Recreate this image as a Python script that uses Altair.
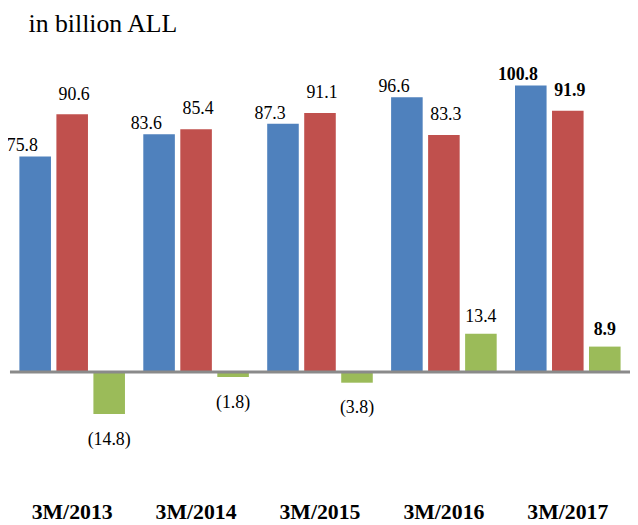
import altair as alt
import pandas as pd

categories = ["3M/2013", "3M/2014", "3M/2015", "3M/2016", "3M/2017"]
series_names = ["Revenues", "Expenditures", "Balance"]
revenues = [75.8, 83.6, 87.3, 96.6, 100.8]
expenditures = [90.6, 85.4, 91.1, 83.3, 91.9]
balance = [-14.8, -1.8, -3.8, 13.4, 8.9]
colors = ["#4F81BD", "#C0504D", "#9BBB59"]
bold_category = "3M/2017"

rows = []
for s, vals in zip(series_names, [revenues, expenditures, balance]):
    for c, v in zip(categories, vals):
        lab = f"{v:.1f}" if v >= 0 else f"({abs(v):.1f})"
        rows.append({"category": c, "series": s, "value": v, "label": lab})
df = pd.DataFrame(rows)

FONT = "Liberation Serif"

X = alt.X(
    "category:N",
    sort=categories,
    scale=alt.Scale(paddingInner=0.104, paddingOuter=0.054),
    axis=alt.Axis(
        title=None, labelAngle=0, domain=False, ticks=False, tickSize=0,
        labelFont=FONT, labelFontSize=22, labelFontWeight="bold",
        labelColor="black", labelPadding=45,
    ),
)
XO = alt.XOffset("series:N", sort=series_names,
                 scale=alt.Scale(paddingInner=0.147, paddingOuter=0.0735))
Y = alt.Y("value:Q", scale=alt.Scale(domain=[-30, 116], nice=False, zero=False), axis=None)

base = alt.Chart(df).encode(x=X, xOffset=XO, y=Y)

bars = base.mark_bar().encode(
    color=alt.Color("series:N", sort=series_names,
                    scale=alt.Scale(domain=series_names, range=colors), legend=None)
)

zero = alt.Chart(pd.DataFrame({"value": [0]})).mark_rule(
    color="#8a8a8a", strokeWidth=3
).encode(y=alt.Y("value:Q", scale=alt.Scale(domain=[-30, 116], nice=False, zero=False), axis=None))

layers = [bars, zero]
offsets = {"Revenues": (-13, -5), "Expenditures": (2, -15), "Balance": (0, -12)}
for s in series_names:
    dx, dy = offsets[s]
    for bold in [False, True]:
        cond = f"datum.series == '{s}' && datum.value >= 0 && " + (
            f"datum.category == '{bold_category}'" if bold else f"datum.category != '{bold_category}'"
        )
        layers.append(
            base.transform_filter(cond).mark_text(
                font=FONT, fontSize=18, dx=dx, dy=dy, baseline="alphabetic",
                fontWeight="bold" if bold else "normal", color="black",
            ).encode(text="label:N")
        )
layers.append(
    base.transform_filter("datum.value < 0").mark_text(
        font=FONT, fontSize=18, dy=17, baseline="top", color="black"
    ).encode(text="label:N")
)

chart = alt.layer(*layers).properties(
    width=626,
    height=419,
    padding={"left": 2, "top": 32, "right": 0, "bottom": 68},
    autosize=alt.AutoSizeParams(type="none"),
    title=alt.TitleParams(
        "in billion ALL", anchor="start", font=FONT, fontSize=26,
        fontWeight="normal", color="black", dx=22, dy=21, offset=5, baseline="alphabetic",
    ),
    background="white",
).configure_view(stroke=None).configure_title(font=FONT, fontWeight="normal")

chart.save("out.html", embed_options={"renderer": "svg", "actions": False})
